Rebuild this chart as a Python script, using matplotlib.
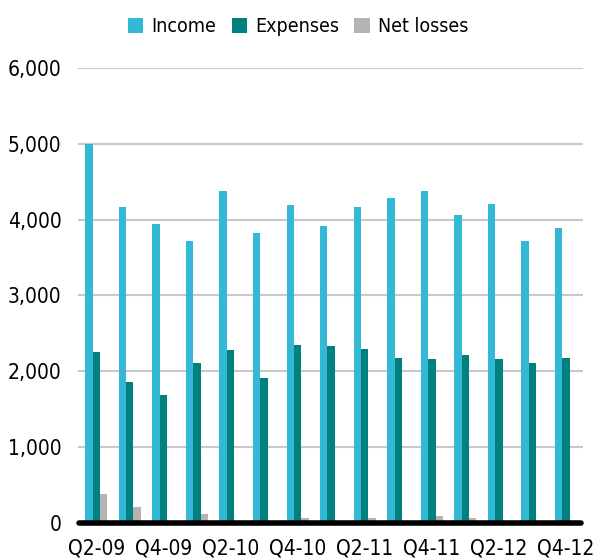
import numpy as np
import matplotlib.pyplot as plt
from matplotlib.lines import Line2D

plt.rcParams['font.family'] = ['DejaVu Sans']
plt.rcParams['font.stretch'] = 'condensed'

quarters = ['Q2-09', 'Q3-09', 'Q4-09', 'Q1-10', 'Q2-10', 'Q3-10', 'Q4-10', 'Q1-11',
            'Q2-11', 'Q3-11', 'Q4-11', 'Q1-12', 'Q2-12', 'Q3-12', 'Q4-12']
income = [4990, 4160, 3940, 3720, 4380, 3820, 4190, 3920,
          4160, 4280, 4380, 4060, 4210, 3720, 3890]
expenses = [2250, 1860, 1690, 2110, 2280, 1910, 2350, 2330,
            2300, 2180, 2160, 2210, 2160, 2110, 2180]
net_losses = [380, 210, 10, 115, 10, 5, 60, 10,
              60, 10, 90, 60, 5, 5, 5]

colors = {'Income': '#33b8d6', 'Expenses': '#00807f', 'Net losses': '#b3b3b3'}

fig = plt.figure(figsize=(5.96, 5.6), dpi=100)
ax = fig.add_axes([0.131, 0.066, 0.847, 0.813])

x = np.arange(len(quarters))
w = 0.22
ax.bar(x - w, income, w, color=colors['Income'], label='Income', zorder=2)
ax.bar(x, expenses, w, color=colors['Expenses'], label='Expenses', zorder=2)
ax.bar(x + w, net_losses, w, color=colors['Net losses'], label='Net losses', zorder=2)

ax.set_ylim(0, 6000)
ax.set_xlim(-0.54, 14.5)
ax.set_yticks(np.arange(0, 6001, 1000))
ax.set_yticklabels([f'{v:,}' for v in range(0, 6001, 1000)])
ax.set_xticks(x[::2])
ax.set_xticklabels(quarters[::2])
ax.tick_params(length=0, labelsize=15, colors='black')
ax.tick_params(axis='x', pad=11)
ax.tick_params(axis='y', pad=12)

ax.grid(axis='y', color='#c8c8c8', linewidth=1.5, zorder=0)
for s in ax.spines.values():
    s.set_visible(False)

# thick zero baseline
ax.add_line(Line2D([-0.5, 14.45], [0, 0], color='black', linewidth=4,
                   solid_capstyle='round', zorder=3, clip_on=False))

handles, labels = ax.get_legend_handles_labels()
fig.legend(handles, labels, loc='center', bbox_to_anchor=(0.5, 0.952), ncol=3,
           frameon=False, fontsize=14, handlelength=0.8, handleheight=0.8,
           handletextpad=0.4, columnspacing=0.8)

fig.savefig('out.png', dpi=100)
